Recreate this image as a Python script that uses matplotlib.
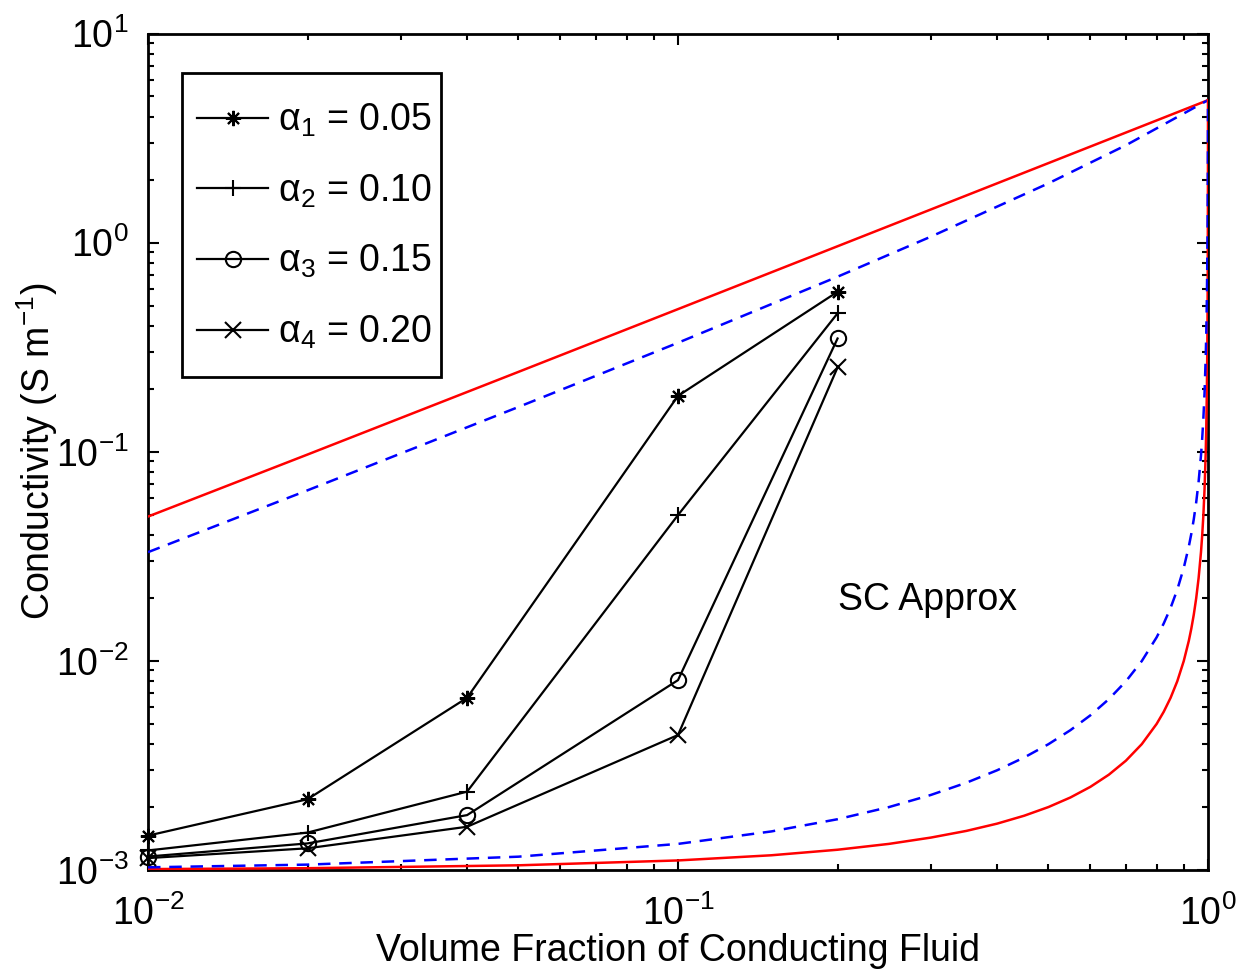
import numpy as np
from matplotlib import pyplot as plt
from matplotlib.patches import Rectangle
from matplotlib.ticker import LogLocator, LogFormatterMathtext, NullFormatter

plt.rcParams['font.family'] = ['Liberation Sans', 'DejaVu Sans']
plt.rcParams['mathtext.fontset'] = 'custom'
plt.rcParams['mathtext.rm'] = 'Liberation Sans'
plt.rcParams['mathtext.it'] = 'Liberation Sans:italic'
plt.rcParams['mathtext.bf'] = 'Liberation Sans:bold'

# measured points (volume fraction vs conductivity)
phi = [0.01, 0.02, 0.04, 0.1, 0.2]
sig_a1 = [0.00146, 0.00218, 0.00666, 0.185, 0.582]
sig_a2 = [0.00124, 0.00151, 0.00237, 0.0498, 0.459]
sig_a3 = [0.00116, 0.00134, 0.00183, 0.00809, 0.348]
sig_a4 = [0.00114, 0.00127, 0.00161, 0.00442, 0.253]
labels = ['α$_1$ = 0.05', 'α$_2$ = 0.10', 'α$_3$ = 0.15', 'α$_4$ = 0.20']
markers = [(8, 2, 0), '+', 'o', 'x']

# bounds
phi_up = [0.01, 0.02, 0.05, 0.1, 0.2, 0.3, 0.5, 0.7, 1.0]
red_up = [0.04899, 0.09699, 0.24095, 0.4809, 0.9608, 1.4407, 2.4005, 3.3603, 4.8]
blue_up = [0.0331, 0.0654, 0.1637, 0.332, 0.687, 1.068, 1.921, 2.922, 4.8]

phi_lo = [0.01, 0.02, 0.05, 0.1, 0.15, 0.2, 0.25, 0.3, 0.35, 0.4, 0.45, 0.5,
          0.55, 0.6, 0.65, 0.7, 0.75, 0.8, 0.825, 0.85, 0.875, 0.9, 0.92, 0.93,
          0.94, 0.95, 0.96, 0.97, 0.975, 0.98, 0.985, 0.99, 0.9925, 0.995,
          0.997, 0.998, 0.9985, 0.999, 0.9995, 0.9998, 0.9999, 1.0]
red_lo = [0.00101, 0.00102, 0.001053, 0.001111, 0.001176, 0.00125, 0.001333,
          0.001429, 0.001538, 0.001666, 0.001818, 0.0020, 0.002222, 0.002499,
          0.002856, 0.003332, 0.003998, 0.004996, 0.005709, 0.006659, 0.007988,
          0.009981, 0.01247, 0.014246, 0.016612, 0.019921, 0.024876, 0.033111,
          0.039678, 0.049495, 0.065767, 0.097981, 0.12976, 0.19204, 0.31175,
          0.45292, 0.58547, 0.82775, 1.41197, 2.4492, 3.2433, 4.8]
blue_lo = [0.00103, 0.001061, 0.001158, 0.001333, 0.001529, 0.001749, 0.001999,
           0.002285, 0.002614, 0.002998, 0.003452, 0.003996, 0.004662, 0.005493,
           0.006562, 0.007986, 0.009978, 0.012963, 0.015093, 0.01793, 0.021896,
           0.027832, 0.035233, 0.040504, 0.047515, 0.057296, 0.071892, 0.096023,
           0.115146, 0.14355, 0.19012, 0.28053, 0.36745, 0.53167, 0.82606,
           1.14157, 1.41052, 1.8452, 2.666, 3.636, 4.138, 4.8]

fig = plt.figure(figsize=(12.52, 9.76), dpi=100)
ax = fig.add_axes([148/1252, 1 - 870/976, 1060/1252, 836.5/976])

ax.plot(phi_up, red_up, color='red', lw=1.8, zorder=3)
ax.plot(phi_up, blue_up, color='blue', lw=1.8, ls='--', dashes=(5, 3.5), zorder=3)
ax.plot(phi_lo, red_lo, color='red', lw=1.8, zorder=3)
ax.plot(phi_lo, blue_lo, color='blue', lw=1.8, ls='--', dashes=(5, 3.5), zorder=3)

for s, lab, m in zip([sig_a1, sig_a2, sig_a3, sig_a4], labels, markers):
    ax.plot(phi, s, color='black', lw=1.6, marker=m, markersize=11,
            markeredgewidth=1.5, fillstyle='none', label=lab, zorder=4, clip_on=False)

ax.set_xscale('log')
ax.set_yscale('log')
ax.set_xlim(0.01, 1)
ax.set_ylim(1e-3, 10)

ax.xaxis.set_major_locator(LogLocator(base=10))
ax.yaxis.set_major_locator(LogLocator(base=10))
ax.xaxis.set_minor_locator(LogLocator(base=10, subs=np.arange(2, 10)))
ax.yaxis.set_minor_locator(LogLocator(base=10, subs=np.arange(2, 10)))
ax.xaxis.set_major_formatter(LogFormatterMathtext())
ax.yaxis.set_major_formatter(LogFormatterMathtext())
ax.xaxis.set_minor_formatter(NullFormatter())
ax.yaxis.set_minor_formatter(NullFormatter())

ax.tick_params(which='both', direction='in', top=True, right=True, width=1.5, labelsize=27)
ax.tick_params(which='major', length=8)
ax.tick_params(which='minor', length=4.5)
ax.tick_params(axis='x', pad=18)
ax.tick_params(axis='y', pad=14)
for sp in ax.spines.values():
    sp.set_linewidth(2)

ax.set_xlabel('Volume Fraction of Conducting Fluid', fontsize=27, labelpad=0)
ax.set_ylabel(r'Conductivity (S m$^{-1}$)', fontsize=27, labelpad=-3)

ax.text(0.2, 0.0195, 'SC Approx', fontsize=27, ha='left', va='center')

# legend box drawn separately so its padding matches the original
ax.add_patch(Rectangle((0.0321, 0.5894), 0.2443, 0.3634, transform=ax.transAxes,
                       facecolor='white', edgecolor='black', lw=2, zorder=5))
leg = ax.legend(loc='upper left', bbox_to_anchor=(0.0462, 0.9185), fontsize=27,
                frameon=False, borderpad=0, labelspacing=0.89, handlelength=1.9,
                handletextpad=0.27, borderaxespad=0)
leg.set_zorder(6)

fig.savefig('out.png', dpi=100)
